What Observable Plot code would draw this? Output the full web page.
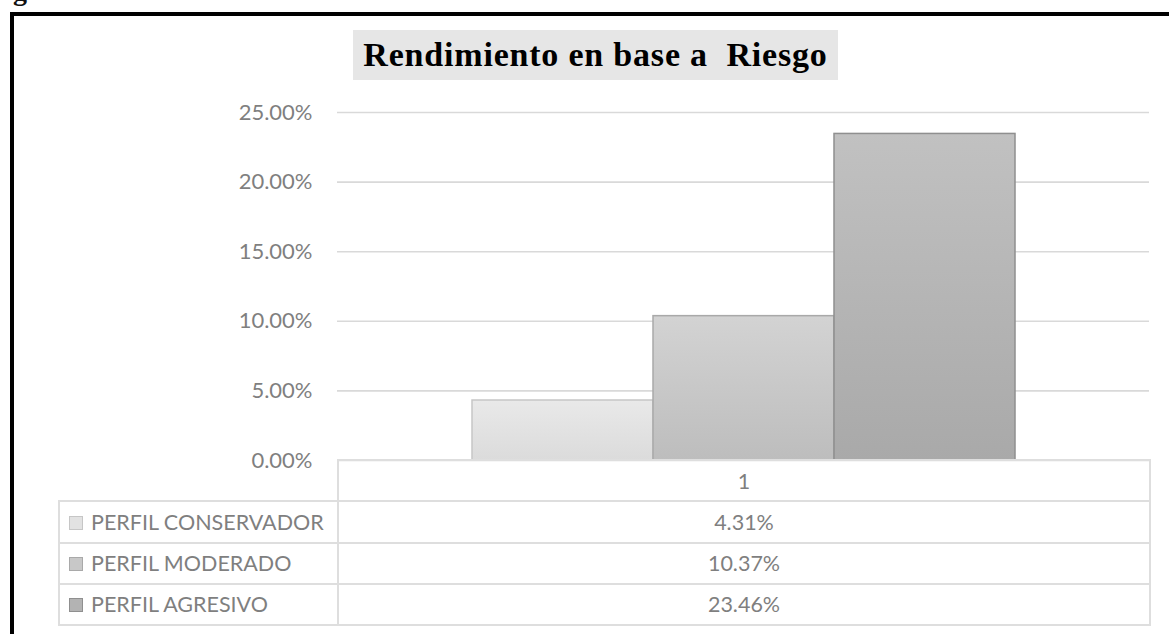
<!DOCTYPE html>
<html>
<head>
<meta charset="utf-8">
<script src="https://cdn.jsdelivr.net/npm/d3@7"></script>
<script src="https://cdn.jsdelivr.net/npm/@observablehq/plot@0.6"></script>
<style>
  html, body { margin: 0; padding: 0; background: #fff; }
  #wrap { position: relative; width: 1169px; height: 634px; overflow: hidden; background: #fff; }
  #fig { position: absolute; left: -12px; top: -23px; font: bold 28px "Liberation Serif", serif; color: #111; white-space: nowrap; line-height: 28px; }
  #frame { position: absolute; left: 10px; top: 12px; width: 1300px; height: 800px; border: 4px solid #000; box-sizing: border-box; }
  #chart { position: absolute; left: 0; top: 0; }
  #title { position: absolute; left: 353px; top: 30px; width: 485px; height: 50px; background: #e6e6e6;
           font: bold 34px "Liberation Serif", serif; color: #000; text-align: center; line-height: 50px; white-space: pre; letter-spacing: 0.8px; }
  #tbl { position: absolute; left: 58px; top: 459px; border-collapse: collapse; font-family: Lato, sans-serif; font-size: 21.5px; color: #7f7f7f; }
  #tbl td { border: 2px solid #dedede; height: 41.25px; padding: 0; box-sizing: border-box; }
  #tbl td.lab { width: 279px; text-align: left; white-space: nowrap; }
  #tbl td.val { width: 812px; text-align: center; }
  #tbl td.blank { border-top: none; border-left: none; }
  .sw { display: inline-block; width: 12px; height: 12px; margin: 0 8px 0 9px; vertical-align: 0px; border: 1px solid; }
</style>
</head>
<body>
<div id="wrap">
  <div id="fig">Figura 1</div>
  <div id="frame"></div>
  <div id="chart"></div>
  <div id="title"></div>
  <table id="tbl"></table>
</div>
<script>
// ---- data ----
const titleText = "Rendimiento en base a  Riesgo";
const categories = ["1"];
const series = ["PERFIL CONSERVADOR", "PERFIL MODERADO", "PERFIL AGRESIVO"];
const values = [0.0431, 0.1037, 0.2346];
const yTicks = [0, 0.05, 0.10, 0.15, 0.20, 0.25];

// ---- styles ----
const gradTop = ["#e9e9e9", "#d3d3d3", "#c1c1c1"];
const gradBot = ["#dbdbdb", "#bdbdbd", "#a9a9a9"];
const strokes = ["#c6c6c6", "#a9a9a9", "#8f8f8f"];
const swatch = ["#e2e2e2", "#c8c8c8", "#b3b3b3"];

const data = series.map((s, i) => ({series: s, value: values[i], category: categories[0], i}));
const fmt = d3.format(".2%");

const defsMark = () => {
  const defs = d3.create("svg:defs");
  series.forEach((s, i) => {
    const g = defs.append("linearGradient").attr("id", "g" + i)
      .attr("x1", 0).attr("y1", 0).attr("x2", 0).attr("y2", 1);
    g.append("stop").attr("offset", "0%").attr("stop-color", gradTop[i]);
    g.append("stop").attr("offset", "100%").attr("stop-color", gradBot[i]);
  });
  return defs.node();
};

const chart = Plot.plot({
  width: 1169,
  height: 470,
  marginTop: 112,
  marginBottom: 10,
  marginLeft: 337,
  marginRight: 20,
  style: {background: "transparent", fontFamily: "Lato, sans-serif", fontSize: "22px", overflow: "visible"},
  x: {domain: series, paddingInner: 0, paddingOuter: 0.743, axis: null},
  y: {domain: [0, 0.25], axis: null},
  marks: [
    defsMark,
    Plot.ruleY(yTicks, {stroke: "#d9d9d9", strokeWidth: 1.6, strokeOpacity: 1}),
    ...series.map((s, i) => Plot.barY(data.filter(d => d.i === i), {
      x: "series", y: "value", fill: `url(#g${i})`, stroke: strokes[i], strokeWidth: 1.5
    })),
    Plot.axisY(yTicks, {tickSize: 0, tickPadding: 25, tickFormat: fmt, fill: "#7f7f7f", fontSize: 22, label: null})
  ]
});
document.getElementById("chart").appendChild(chart);
document.getElementById("title").textContent = titleText;

// ---- data table ----
const tbl = d3.select("#tbl");
const head = tbl.append("tr");
head.append("td").attr("class", "lab blank");
head.append("td").attr("class", "val").text(categories[0]);
series.forEach((s, i) => {
  const tr = tbl.append("tr");
  const lab = tr.append("td").attr("class", "lab");
  lab.append("span").attr("class", "sw").style("background", swatch[i]).style("border-color", strokes[i]);
  lab.append("span").text(s);
  tr.append("td").attr("class", "val").text(fmt(values[i]));
});
</script>
</body>
</html>
